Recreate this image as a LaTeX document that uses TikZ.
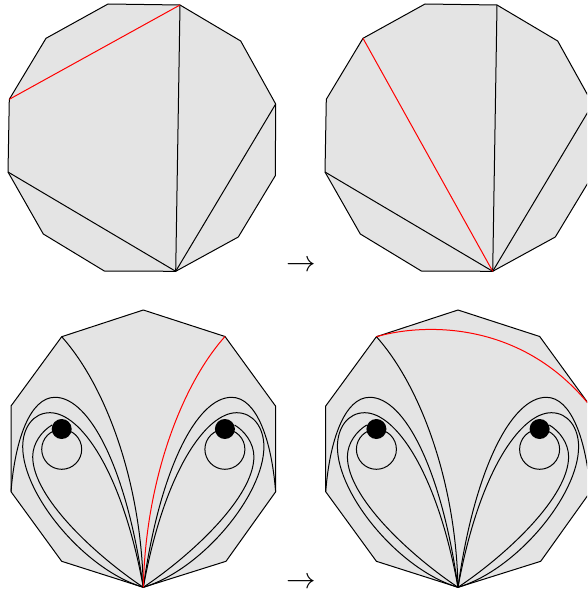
\documentclass[tikz,border=0pt]{standalone}
\definecolor{gonfill}{gray}{0.895}
\tikzset{
  gon/.style={draw=black,fill=gonfill,line width=1pt,line join=round},
  arc/.style={draw=black,line width=1pt},
  redarc/.style={draw=red,line width=1pt},
  puncture/.style={fill=black},
  ring/.style={draw=black,line width=1pt},
  arrowlabel/.style={inner sep=0pt,scale=2.95}
}
\newcommand{\topgon}{%
  \coordinate (a1) at (108,4);
  \coordinate (a2) at (180,5);
  \coordinate (a3) at (240.7,41);
  \coordinate (a4) at (275.7,104);
  \coordinate (a5) at (275.3,175.7);
  \coordinate (a6) at (238.3,237);
  \coordinate (a7) at (175.7,271.3);
  \coordinate (a8) at (104.3,271);
  \coordinate (a9) at (43.3,234);
  \coordinate (a10) at (8,172);
  \coordinate (a11) at (9.3,99.3);
  \coordinate (a12) at (46,38.3);
  \path[gon] (a1)--(a2)--(a3)--(a4)--(a5)--(a6)--(a7)--(a8)--(a9)--(a10)--(a11)--(a12)--cycle;
  \draw[arc] (a2)--(a7);
  \draw[arc] (a4)--(a7);
  \draw[arc] (a10)--(a7);
}
\newcommand{\lobe}{%
  \fill[puncture] (61.7,429) circle (10);
  \draw[ring] (61.7,449.3) circle (20);
  \draw[arc] (11,491.7) .. controls (15,440) and (30,397.3) .. (55,397.3)
     .. controls (90,397.3) and (127,470) .. (143.3,587.3);
  \draw[arc] (143.3,587.3) .. controls (85,570) and (22.7,495) .. (22.7,446.7)
     .. controls (22.7,428) and (33,412.7) .. (50,412.7)
     .. controls (80,412.7) and (122,470) .. (143.3,587.3);
  \draw[arc] (143.3,587.3) .. controls (95,555) and (32.7,497) .. (32.7,456.7)
     .. controls (32.7,443) and (42,431) .. (52,425);
}
\newcommand{\botgon}{%
  \coordinate (b1) at (143.3,310);
  \coordinate (b2) at (225,336.5);
  \coordinate (b3) at (275.5,406);
  \coordinate (b4) at (275.7,491.7);
  \coordinate (b5) at (226,561.3);
  \coordinate (b6) at (143.3,587.3);
  \coordinate (b7) at (61.7,561.3);
  \coordinate (b8) at (11,491.7);
  \coordinate (b9) at (11,406);
  \coordinate (b10) at (61.7,336.7);
  \path[gon] (b1)--(b2)--(b3)--(b4)--(b5)--(b6)--(b7)--(b8)--(b9)--(b10)--cycle;
  \lobe
  \begin{scope}[xshift=286.6pt,xscale=-1]\lobe\end{scope}
  \draw[arc] (b10) .. controls (105,385) and (141,480) .. (b6);
}
\begin{document}
\begin{tikzpicture}[x=1pt,y=-1pt]
\useasboundingbox (0,0) rectangle (587,594);
\clip (0,0) rectangle (587,594);
% top left
\topgon
\draw[redarc] (a11)--(a2);
% top right
\begin{scope}[xshift=317pt]
  \topgon
  \draw[redarc] (a12)--(a7);
\end{scope}
% bottom left
\botgon
\draw[redarc] (b2) .. controls (181.6,385) and (145.6,480) .. (b6);
% bottom right
\begin{scope}[xshift=314.7pt]
  \botgon
  \draw[redarc] (b10) .. controls (105,324) and (205,318) .. (275.5,406);
\end{scope}
\node[arrowlabel] (step1) at (300.8,266) {$\to$};
\node[arrowlabel] (step2) at (300.8,583.4) {$\to$};
\end{tikzpicture}
\end{document}
